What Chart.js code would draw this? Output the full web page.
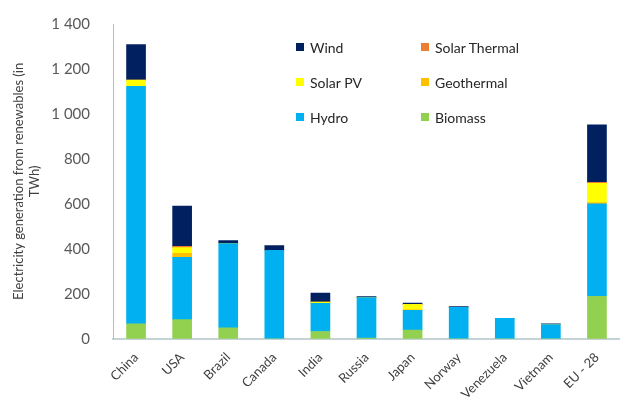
<!DOCTYPE html>
<html lang="en">
<head>
<meta charset="UTF-8">
<title>Electricity generation from renewables</title>
<script src="https://cdn.jsdelivr.net/npm/chart.js"></script>
<style>
    body { margin: 0; background: #fff; font-family: Lato, "Open Sans", sans-serif; }
    .wrap { position: relative; width: 620px; height: 405px; }
    .legend { position: absolute; left: 296px; top: 38px; display: grid;
              grid-template-columns: 125px 150px; row-gap: 17px; font-size: 14px; color: #262626; }
    .legend div { display: flex; align-items: center; height: 18px; }
    .legend span { display: inline-block; width: 8px; height: 8px; margin-right: 6px; }
</style>
</head>
<body>
<div class="wrap">
    <canvas id="chart" width="620" height="405"></canvas>
    <div class="legend" id="legend"></div>
</div>
<script>
const countries = ['China', 'USA', 'Brazil', 'Canada', 'India', 'Russia', 'Japan', 'Norway', 'Venezuela', 'Vietnam', 'EU - 28'];

const biomass      = [66, 85, 48, 0, 32, 3, 38, 0, 0, 0, 189];
const hydro        = [1057, 277, 375, 393, 126, 180, 88, 140, 91, 63, 411];
const geothermal   = [0, 18, 0, 0, 0, 0, 3, 0, 0, 0, 6];
const solarPV      = [27, 25, 0, 0, 5, 0, 24, 0, 0, 0, 85];
const solarThermal = [0, 6, 0, 0, 0, 0, 0, 0, 0, 0, 5];
const wind         = [158, 179, 14, 21, 40, 4, 6, 3, 0, 3, 255];

const yTicks = [0, 200, 400, 600, 800, 1000, 1200, 1400];

// stacking order bottom -> top
const series = [
    { label: 'Biomass', data: biomass, color: '#92d050' },
    { label: 'Hydro', data: hydro, color: '#00b0f0' },
    { label: 'Geothermal', data: geothermal, color: '#ffc000' },
    { label: 'Solar PV', data: solarPV, color: '#ffff00' },
    { label: 'Solar Thermal', data: solarThermal, color: '#ed7d31' },
    { label: 'Wind', data: wind, color: '#002060' }
];

// legend, two columns as in the original
const legendOrder = ['Wind', 'Solar Thermal', 'Solar PV', 'Geothermal', 'Hydro', 'Biomass'];
const legendEl = document.getElementById('legend');
legendOrder.forEach(name => {
    const s = series.find(d => d.label === name);
    const item = document.createElement('div');
    item.innerHTML = '<span style="background:' + s.color + '"></span>' + name;
    legendEl.appendChild(item);
});

const ctx = document.getElementById('chart').getContext('2d');
new Chart(ctx, {
    type: 'bar',
    data: {
        labels: countries,
        datasets: series.map(s => ({
            label: s.label,
            data: s.data,
            backgroundColor: s.color,
            borderWidth: 0,
            barThickness: 19
        }))
    },
    options: {
        responsive: false,
        animation: false,
        layout: { padding: { top: 14, right: 0, bottom: 0, left: 11 } },
        plugins: {
            legend: { display: false },
            tooltip: { enabled: false }
        },
        scales: {
            x: {
                stacked: true,
                grid: { display: false },
                border: { display: true, color: '#c5d3d6', width: 2 },
                ticks: {
                    minRotation: 45,
                    maxRotation: 45,
                    color: '#404040',
                    font: { family: 'Lato', size: 13 },
                    padding: 3
                }
            },
            y: {
                stacked: true,
                min: 0,
                max: 1400,
                afterBuildTicks: axis => { axis.ticks = yTicks.map(v => ({ value: v })); },
                afterFit: axis => { axis.width = 102; },
                grid: { display: false },
                border: { display: true, color: '#a9bed6', width: 1 },
                ticks: {
                    color: '#595959',
                    padding: 15,
                    font: { family: 'Lato', size: 15 },
                    callback: v => v >= 1000 ? Math.floor(v / 1000) + ' ' + String(v % 1000).padStart(3, '0') : String(v)
                },
                title: {
                    display: true,
                    text: ['Electricity generation from renewables (in', 'TWh)'],
                    color: '#404040',
                    font: { family: 'Lato', size: 13 },
                    padding: { top: 0, bottom: 0 }
                }
            }
        }
    }
});
</script>
</body>
</html>
